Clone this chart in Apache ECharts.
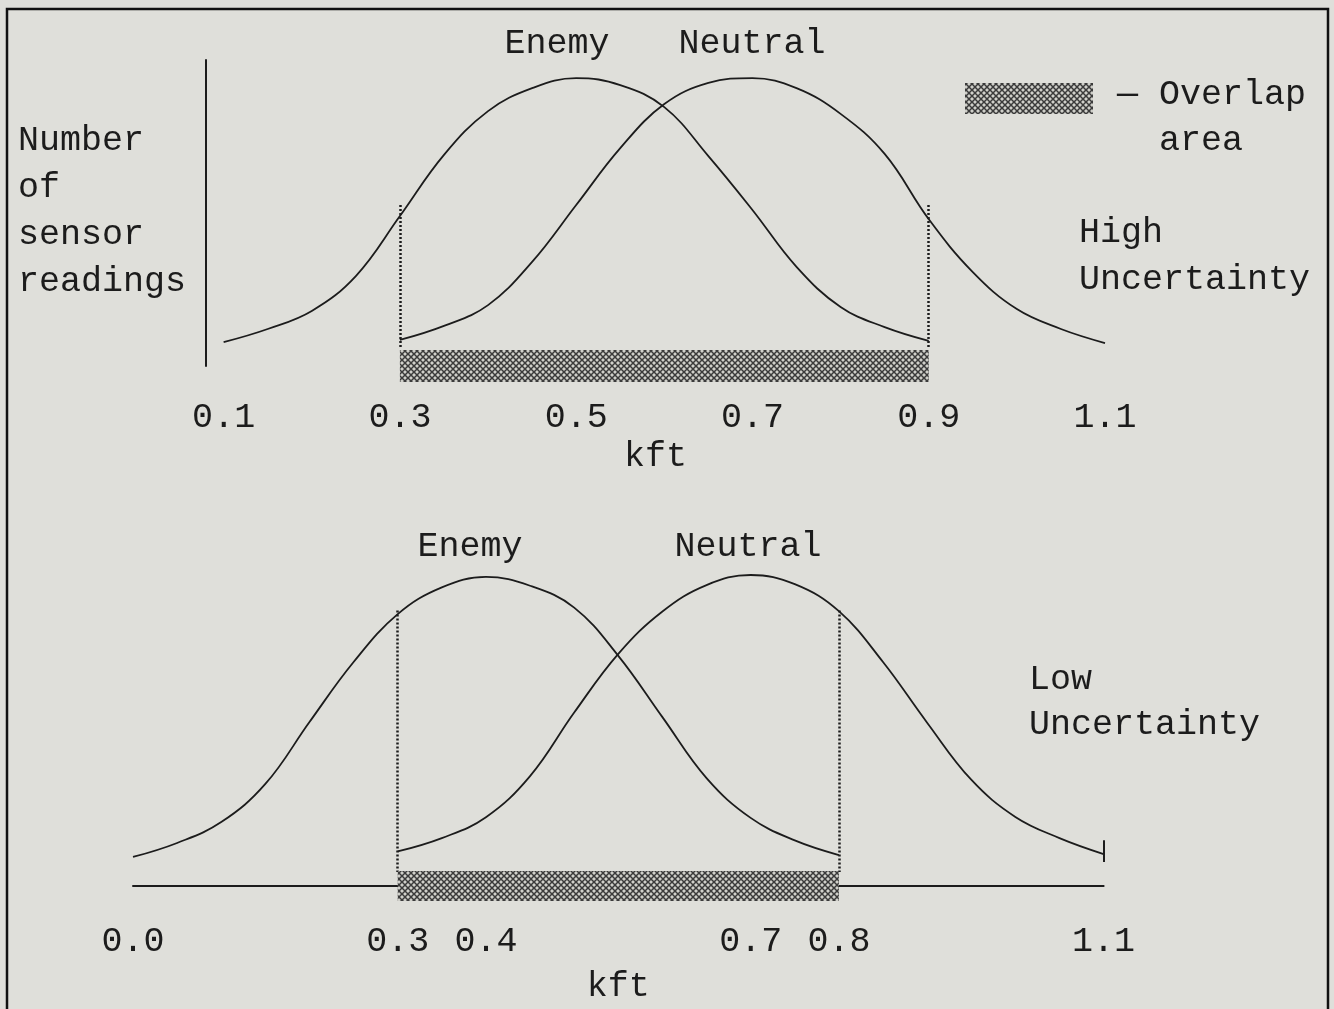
<!DOCTYPE html>
<html>
<head>
<meta charset="utf-8">
<script src="https://cdn.jsdelivr.net/npm/echarts@6/dist/echarts.min.js"></script>
<style>
html,body{margin:0;padding:0;background:#dfdfda;}
#chart{width:1334px;height:1009px;}
</style>
</head>
<body>
<div id="chart"></div>
<script>
// ---------- data (kft vs. relative number of sensor readings) ----------
// High-uncertainty panel
const highTicks = [0.1, 0.3, 0.5, 0.7, 0.9, 1.1];
const highEnemyX = [0.10,0.15,0.20,0.25,0.30,0.35,0.40,0.45,0.50,0.55,0.60,0.65,0.70,0.75,0.80,0.85,0.90];
const highEnemyY = [7.8,12.1,18.0,29.4,49.0,69.0,83.3,90.8,94.1,91.8,84.6,68.6,51.0,32.4,19.3,12.7,8.2];
const highNeutralX = [0.30,0.35,0.40,0.45,0.50,0.55,0.60,0.65,0.70,0.75,0.80,0.85,0.90,0.95,1.00,1.05,1.10];
const highNeutralY = [8.5,13.1,19.9,34.0,52.6,71.2,85.6,92.5,94.1,90.8,82.4,69.3,48.0,30.7,18.6,12.1,7.5];
const highOverlap = [0.3, 0.9];
const highDividerY = [52.6, 6.0];

// Low-uncertainty panel
const lowTicks = [0.0, 0.3, 0.4, 0.7, 0.8, 1.1];
const lowEnemyX = [0.00,0.05,0.10,0.15,0.20,0.25,0.30,0.35,0.40,0.45,0.50,0.55,0.60,0.65,0.70,0.75,0.80];
const lowEnemyY = [8.9,13.2,19.6,31.3,50.3,68.7,83.4,91.6,94.8,92.1,85.4,70.6,51.8,33.1,20.9,14.0,9.5];
const lowNeutralX = [0.30,0.35,0.40,0.45,0.50,0.55,0.60,0.65,0.70,0.75,0.80,0.85,0.90,0.95,1.00,1.05,1.10];
const lowNeutralY = [10.6,14.7,21.1,33.7,53.2,71.2,84.2,92.3,95.4,92.6,84.3,68.7,50.1,32.6,21.2,14.7,9.8];
const lowOverlap = [0.3, 0.8];
const lowDividerY = [84.5, 4.3];
const lowEndMarkY = [14.0, 7.4];

// ---------- helpers ----------
const zip = (xs, ys) => xs.map((x, i) => [x, ys[i]]);
const FONT = 'Liberation Mono';
const INK = '#1c1c1c';
const SMOOTH = 0.4;

function hatchCanvas() {
  const c = document.createElement('canvas');
  c.width = 6; c.height = 6;
  const g = c.getContext('2d');
  g.fillStyle = '#cfcfc9';
  g.fillRect(0, 0, 6, 6);
  g.strokeStyle = '#3a3a3a';
  g.lineWidth = 1.5;
  g.beginPath();
  g.moveTo(0, 0); g.lineTo(6, 6);
  g.moveTo(6, 0); g.lineTo(0, 6);
  g.stroke();
  return c;
}
const hatch = { image: hatchCanvas(), repeat: 'repeat' };

function bandRenderer(halfHeight) {
  return function (params, api) {
    const p0 = api.coord([api.value(0), 0]);
    const p1 = api.coord([api.value(1), 0]);
    return {
      type: 'rect',
      shape: { x: p0[0], y: p0[1] - halfHeight, width: p1[0] - p0[0], height: halfHeight * 2 },
      style: { fill: hatch }
    };
  };
}

const curveStyle = { color: INK, width: 1.8 };
const dotted = { color: INK, width: 2.5, type: [2, 2] };

function xAxisCfg(grid, min, max, ticks, margin, nameGap, showLine) {
  return {
    type: 'value', gridIndex: grid, min: min, max: max,
    axisLine: { show: showLine, onZero: false, lineStyle: { color: INK, width: 2 } },
    axisTick: { show: false },
    splitLine: { show: false },
    axisLabel: {
      customValues: ticks, margin: margin,
      fontFamily: FONT, fontSize: 35, color: INK,
      formatter: v => v.toFixed(1)
    },
    name: 'kft', nameLocation: 'middle', nameGap: nameGap,
    nameTextStyle: { fontFamily: FONT, fontSize: 35, color: INK }
  };
}

function txt(x, y, s, align) {
  return {
    type: 'text', x: x, y: y,
    style: { text: s, font: '35px "' + FONT + '"', fill: INK, align: align || 'left', verticalAlign: 'middle' }
  };
}

const chart = echarts.init(document.getElementById('chart'));
chart.setOption({
  backgroundColor: '#dfdfda',
  animation: false,
  grid: [
    { left: 206, top: 60, width: 899, height: 306 },
    { left: 133, top: 560, width: 970.6, height: 326 }
  ],
  xAxis: [
    xAxisCfg(0, 0.08, 1.1, highTicks, 34, 73, false),
    xAxisCfg(1, 0.0, 1.1, lowTicks, 38, 83, true)
  ],
  yAxis: [
    { type: 'value', gridIndex: 0, min: 0, max: 100,
      axisLine: { show: true, lineStyle: { color: INK, width: 2 } },
      axisTick: { show: false }, axisLabel: { show: false }, splitLine: { show: false } },
    { type: 'value', gridIndex: 1, min: 0, max: 100, show: false, splitLine: { show: false } }
  ],
  series: [
    // high uncertainty
    { type: 'custom', xAxisIndex: 0, yAxisIndex: 0, z: 1,
      renderItem: bandRenderer(16), data: [[highOverlap[0], highOverlap[1], 0]],
      encode: { x: [0, 1], y: 2 }, silent: true },
    { name: 'Enemy', type: 'line', xAxisIndex: 0, yAxisIndex: 0, data: zip(highEnemyX, highEnemyY),
      smooth: SMOOTH, showSymbol: false, lineStyle: curveStyle, z: 3,
      markLine: { silent: true, symbol: 'none', label: { show: false }, lineStyle: dotted,
        data: highOverlap.map(x => [{ coord: [x, highDividerY[0]] }, { coord: [x, highDividerY[1]] }]) } },
    { name: 'Neutral', type: 'line', xAxisIndex: 0, yAxisIndex: 0, data: zip(highNeutralX, highNeutralY),
      smooth: SMOOTH, showSymbol: false, lineStyle: curveStyle, z: 3 },

    // low uncertainty
    { type: 'custom', xAxisIndex: 1, yAxisIndex: 1, z: 5,
      renderItem: bandRenderer(15), data: [[lowOverlap[0], lowOverlap[1], 0]],
      encode: { x: [0, 1], y: 2 }, silent: true },
    { name: 'Enemy ', type: 'line', xAxisIndex: 1, yAxisIndex: 1, data: zip(lowEnemyX, lowEnemyY),
      smooth: SMOOTH, showSymbol: false, lineStyle: curveStyle, z: 3,
      markLine: { silent: true, symbol: 'none', label: { show: false }, lineStyle: dotted,
        data: lowOverlap.map(x => [{ coord: [x, lowDividerY[0]] }, { coord: [x, lowDividerY[1]] }]) } },
    { name: 'Neutral ', type: 'line', xAxisIndex: 1, yAxisIndex: 1, data: zip(lowNeutralX, lowNeutralY),
      smooth: SMOOTH, showSymbol: false, lineStyle: curveStyle, z: 3,
      markLine: { silent: true, symbol: 'none', label: { show: false },
        lineStyle: { color: INK, width: 2, type: 'solid' },
        data: [[{ coord: [lowNeutralX[lowNeutralX.length - 1], lowEndMarkY[0]] },
                { coord: [lowNeutralX[lowNeutralX.length - 1], lowEndMarkY[1]] }]] } }
  ],
  graphic: [
    { type: 'rect', shape: { x: 7, y: 9, width: 1321, height: 1030 },
      style: { fill: 'none', stroke: '#111', lineWidth: 2.5 }, silent: true },
    txt(18, 141, 'Number'), txt(18, 188, 'of'), txt(18, 235, 'sensor'), txt(18, 282, 'readings'),
    txt(557, 44, 'Enemy', 'center'), txt(752, 44, 'Neutral', 'center'),
    { type: 'rect', shape: { x: 965, y: 83, width: 128, height: 31 }, style: { fill: hatch }, silent: true },
    txt(1117, 95, '— Overlap'), txt(1159, 141, 'area'),
    txt(1079, 233, 'High'), txt(1079, 280, 'Uncertainty'),
    txt(470, 547, 'Enemy', 'center'), txt(748, 547, 'Neutral', 'center'),
    txt(1029, 680, 'Low'), txt(1029, 725, 'Uncertainty')
  ]
});
</script>
</body>
</html>
